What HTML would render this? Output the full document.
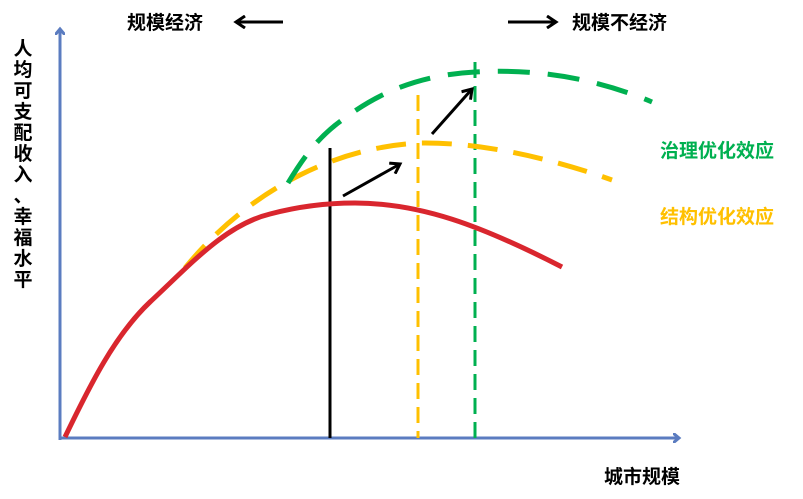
<!DOCTYPE html><html><head><meta charset="utf-8"><style>body{margin:0;background:#fff}svg{display:block}text{font-family:"Liberation Sans","Noto Sans CJK SC",sans-serif;font-size:19px;font-weight:bold}</style></head><body>
<svg width="803" height="499" viewBox="0 0 803 499">
<defs><marker id="b" markerWidth="10" markerHeight="10" refX="5" refY="5" orient="auto" markerUnits="userSpaceOnUse"><path d="M0,0 L6,5 L0,10" fill="none" stroke="#5b7cc0" stroke-width="3"/></marker>
<marker id="k" markerWidth="14" markerHeight="14" refX="11" refY="7" orient="auto" markerUnits="userSpaceOnUse"><path d="M2,1 L11,7 L2,13" fill="none" stroke="#000" stroke-width="3"/></marker></defs>
<line x1="60" y1="440" x2="60" y2="30" stroke="#5b7cc0" stroke-width="3" marker-end="url(#b)"/>
<line x1="59" y1="438" x2="678" y2="438" stroke="#5b7cc0" stroke-width="3" marker-end="url(#b)"/>
<line x1="330" y1="148" x2="330" y2="438" stroke="#000" stroke-width="3"/>
<line x1="418" y1="95" x2="418" y2="438" stroke="#ffc000" stroke-width="3" stroke-dasharray="16,8"/>
<line x1="475" y1="62" x2="475" y2="438" stroke="#00b050" stroke-width="3" stroke-dasharray="16,8"/>
<path d="M185,268 C220,225 260,195 300,175 C340,155 380,145 420,143 C480,142 550,158 612,180" fill="none" stroke="#ffc000" stroke-width="5" stroke-dasharray="30,16"/>
<path d="M288,183 C305,155 320,135 345,118 C380,92 420,75 475,72 C540,68 600,80 652,102" fill="none" stroke="#00b050" stroke-width="5" stroke-dasharray="32,18"/>
<path d="M65,437 C90,385 115,335 150,302 C190,265 225,225 270,214 C300,206 330,203 355,203 C420,203 480,225 562,267" fill="none" stroke="#d9262e" stroke-width="5"/>
<line x1="343" y1="196" x2="400" y2="164" stroke="#000" stroke-width="3" marker-end="url(#k)"/>
<line x1="432" y1="134" x2="472" y2="89" stroke="#000" stroke-width="3" marker-end="url(#k)"/>
<line x1="283" y1="22" x2="236" y2="22" stroke="#000" stroke-width="3" marker-end="url(#k)"/>
<line x1="508" y1="22" x2="556" y2="22" stroke="#000" stroke-width="3" marker-end="url(#k)"/>
<text x="127" y="29">规模经济</text>
<text x="572" y="29">规模不经济</text>
<text x="660" y="157" fill="#00b050">治理优化效应</text>
<text x="660" y="223" fill="#ffc000">结构优化效应</text>
<text x="604" y="483">城市规模</text>
<g text-anchor="middle" style="font-size:20px"><text x="23" y="55">人</text><text x="23" y="76">均</text><text x="23" y="97">可</text><text x="23" y="118">支</text><text x="23" y="139">配</text><text x="23" y="160">收</text><text x="23" y="181">入</text><text x="23" y="202">、</text><text x="23" y="223">幸</text><text x="23" y="244">福</text><text x="23" y="265">水</text><text x="23" y="286">平</text></g>
</svg></body></html>
